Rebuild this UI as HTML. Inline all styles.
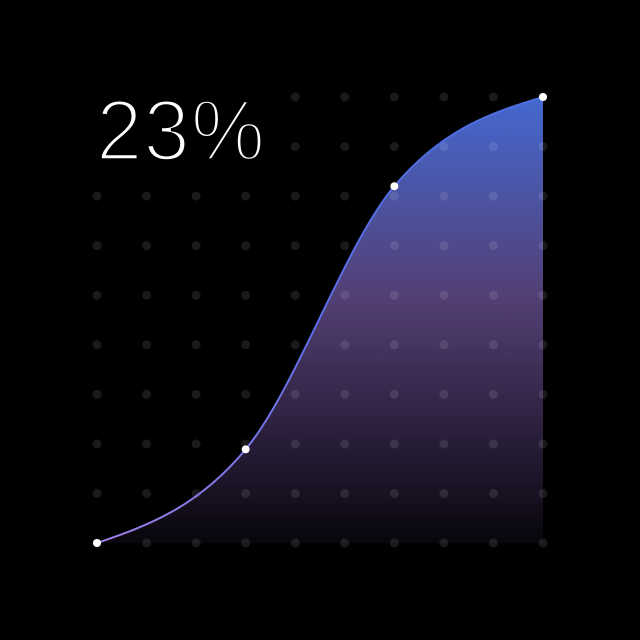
<!DOCTYPE html>
<html><head><meta charset="utf-8"><style>
html,body{margin:0;padding:0;background:#000;width:640px;height:640px;overflow:hidden}
svg{display:block}
</style></head><body>
<svg id="chart" width="640" height="640" viewBox="0 0 640 640">
<defs>
<linearGradient id="fillGrad" x1="0" y1="97" x2="0" y2="543" gradientUnits="userSpaceOnUse">
<stop offset="0" stop-color="#4468d0"/>
<stop offset="0.45" stop-color="#533f74"/>
<stop offset="0.75" stop-color="#2b1f3c"/>
<stop offset="1" stop-color="#08060c"/>
</linearGradient>
<linearGradient id="lineGrad" x1="97" y1="543" x2="543" y2="97" gradientUnits="userSpaceOnUse">
<stop offset="0" stop-color="#a07fe6"/>
<stop offset="0.5" stop-color="#5a6ee8"/>
<stop offset="1" stop-color="#4a70e0"/>
</linearGradient>
</defs>
<path id="area" fill="url(#fillGrad)"/>
<g id="grid"></g>
<path id="line" fill="none" stroke="url(#lineGrad)" stroke-width="2"/>
<g id="pts"></g>
<text x="96" y="160" font-family="Liberation Sans, sans-serif" font-size="86" fill="#fff" stroke="#000" stroke-width="3.5" letter-spacing="1" textLength="170" lengthAdjust="spacingAndGlyphs">23%</text>
</svg>
<script>
const xCats = [0, 3, 6, 9];
const values = [0, 21, 80, 100];
const gridCols = 10, gridRows = 10;
const x0 = 97, x1 = 543, y0 = 543, y1 = 97;
const sx = v => x0 + v / 9 * (x1 - x0);
const sy = v => y0 - v / 100 * (y0 - y1);
const NS = "http://www.w3.org/2000/svg";
const grid = document.getElementById('grid');
for (let i = 0; i < gridCols; i++) for (let j = 0; j < gridRows; j++) {
  if (i < 4 && j >= 8) continue; // space for label
  const c = document.createElementNS(NS, 'circle');
  
  
  c.setAttribute('cx', sx(i)); c.setAttribute('cy', sy(j * 100 / 9));
  c.setAttribute('r', 4.5); c.setAttribute('fill', 'rgba(255,255,255,0.1)');
  grid.appendChild(c);
}
const P = xCats.map((c, i) => [sx(c), sy(values[i])]);
function sign(v){return v<0?-1:1;}
const n = P.length, m = [], t = [];
for (let i = 0; i < n - 1; i++) m.push((P[i+1][1]-P[i][1])/(P[i+1][0]-P[i][0]));
for (let i = 1; i < n - 1; i++) {
  const h0 = P[i][0]-P[i-1][0], h1 = P[i+1][0]-P[i][0], s0 = m[i-1], s1 = m[i], p = (s0*h1+s1*h0)/(h0+h1);
  t[i] = (sign(s0)+sign(s1)) * Math.min(Math.abs(s0), Math.abs(s1), 0.5*Math.abs(p)) || 0;
}
t[0] = (3*m[0] - t[1]) / 2;
t[n-1] = (3*m[n-2] - t[n-2]) / 2;
let d = `M${P[0][0]},${P[0][1]}`;
for (let i = 0; i < n - 1; i++) {
  const dx = (P[i+1][0]-P[i][0]) / 3;
  d += ` C${P[i][0]+dx},${P[i][1]+dx*t[i]} ${P[i+1][0]-dx},${P[i+1][1]-dx*t[i+1]} ${P[i+1][0]},${P[i+1][1]}`;
}
document.getElementById('line').setAttribute('d', d);
document.getElementById('area').setAttribute('d', d + ` L${P[n-1][0]},${y0} L${P[0][0]},${y0} Z`);
const pts = document.getElementById('pts');
P.forEach(p => {
  const c = document.createElementNS(NS, 'circle');
  
  
  c.setAttribute('cx', p[0]); c.setAttribute('cy', p[1]); c.setAttribute('r', 4); c.setAttribute('fill', '#fff');
  pts.appendChild(c);
});
</script>
</body></html>
